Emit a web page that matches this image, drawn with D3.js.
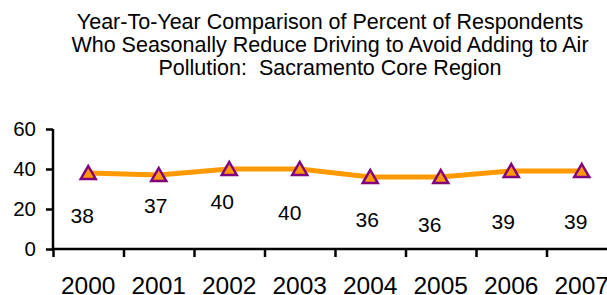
<!DOCTYPE html>
<html>
<head>
<meta charset="utf-8">
<script src="https://cdn.jsdelivr.net/npm/d3@7"></script>
<style>
  body { margin: 0; background: #fff; }
  svg { display: block; font-family: Arial, "Liberation Sans", sans-serif; }
  text { white-space: pre; }
</style>
</head>
<body>
<svg width="607" height="295"></svg>
<script>
// data
const years = ["2000", "2001", "2002", "2003", "2004", "2005", "2006", "2007"]
const percents = [38, 37, 40, 40, 36, 36, 39, 39]
const yTicks = [0, 20, 40, 60]
const titleLines = [
  "Year-To-Year Comparison of Percent of Respondents",
  "Who Seasonally Reduce Driving to Avoid Adding to Air",
  "Pollution:  Sacramento Core Region"
]

// hand placed data labels (offset from each point, px)
const labelDx = [-6, -3, -7, -10, -3, -11, -8, -6]
const labelDy = [43, 31, 33, 44, 43, 48, 51, 51]

const plotLeft = 53, plotRight = 617, plotTop = 129, plotBottom = 249

const svg = d3.select("svg")

const x = d3.scaleBand().domain(years).range([plotLeft, plotRight])
const edge = d3.scaleLinear().domain([0, years.length]).range([plotLeft, plotRight])
const y = d3.scaleLinear().domain([0, 60]).range([plotBottom, plotTop])

// title
svg.append("g")
  .attr("font-size", 21.5)
  .attr("text-anchor", "middle")
  .selectAll("text")
  .data(titleLines)
  .join("text")
    .attr("x", 330)
    .attr("y", (d, i) => 29 + i * 23)
    .text(d => d)

// y axis
const yAxis = svg.append("g")
  .attr("transform", `translate(${plotLeft},0)`)
  .call(d3.axisLeft(y).tickValues(yTicks).tickSize(7).tickPadding(10))
yAxis.select(".domain").attr("stroke-width", 2.5).attr("d", `M0,${plotTop}V${plotBottom}`)
yAxis.selectAll(".tick line").attr("stroke-width", 2.5)
yAxis.selectAll("text").attr("font-size", 20.5).attr("fill", "#000").attr("font-family", null)

// x axis
const xAxis = svg.append("g")
  .attr("transform", `translate(0,${plotBottom})`)
  .call(d3.axisBottom(edge).tickValues(d3.range(years.length + 1)).tickSize(8).tickFormat(""))
xAxis.select(".domain").attr("stroke-width", 2.5).attr("d", `M${plotLeft},0H${plotRight}`)
xAxis.selectAll(".tick line").attr("stroke-width", 2.5)

svg.append("g")
  .attr("font-size", 24.5)
  .attr("text-anchor", "middle")
  .selectAll("text")
  .data(years)
  .join("text")
    .attr("x", d => x(d) + x.bandwidth() / 2)
    .attr("y", 294)
    .text(d => d)

// line
const cx = (d, i) => x(years[i]) + x.bandwidth() / 2
svg.append("path")
  .datum(percents)
  .attr("fill", "none")
  .attr("stroke", "#FF9900")
  .attr("stroke-width", 5)
  .attr("d", d3.line().x(cx).y(d => y(d)))

// markers
svg.append("g")
  .selectAll("path")
  .data(percents)
  .join("path")
    .attr("transform", (d, i) => `translate(${cx(d, i)},${y(d)})`)
    .attr("d", "M0,-7L7.5,6L-7.5,6Z")
    .attr("fill", "#FF9900")
    .attr("stroke", "#800080")
    .attr("stroke-width", 2.5)

// data labels
svg.append("g")
  .attr("font-size", 21)
  .attr("text-anchor", "middle")
  .selectAll("text")
  .data(percents)
  .join("text")
    .attr("x", (d, i) => cx(d, i) + labelDx[i])
    .attr("y", (d, i) => y(d) + labelDy[i])
    .attr("dy", "0.35em")
    .text(d => d)
</script>
</body>
</html>
